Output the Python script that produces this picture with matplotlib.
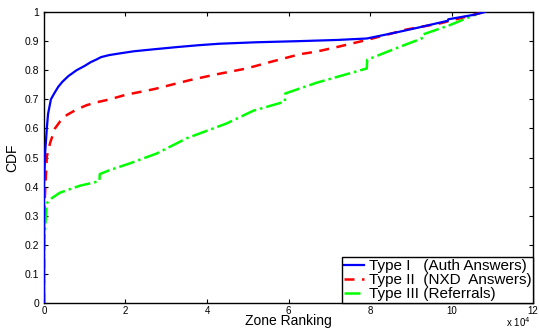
import matplotlib
matplotlib.use("Agg")
import matplotlib.pyplot as plt

plt.rcParams['font.family'] = ['Liberation Sans', 'DejaVu Sans']

# CDF curves (x = zone ranking, y = CDF)
auth_x = [0, 0, 300, 700, 1000, 1700, 2500, 3500, 4500, 6000, 8000, 10000,
          11500, 12900, 14000, 16000, 18700, 22000, 27000, 33000, 38000, 43000,
          52000, 62800, 72000, 79200, 86500, 92000, 99100, 99200, 105300, 108200]
auth_y = [0.0, 0.40, 0.52, 0.60, 0.65, 0.70, 0.72, 0.743, 0.76, 0.78, 0.80, 0.815,
          0.828, 0.837, 0.845, 0.852, 0.858, 0.865, 0.872, 0.88, 0.886, 0.891,
          0.896, 0.90, 0.904, 0.909, 0.930, 0.947, 0.970, 0.975, 0.99, 1.0]

nxd_x = [0, 0, 700, 1500, 2700, 4000, 5600, 8000, 10500, 13000, 16200, 19900,
         27000, 35800, 42000, 49700, 56000, 62800, 66900, 72000, 79200, 89000,
         97200, 108000]
nxd_y = [0.0, 0.30, 0.503, 0.55, 0.60, 0.625, 0.646, 0.665, 0.68, 0.69, 0.70, 0.715,
         0.735, 0.766, 0.785, 0.806, 0.83, 0.855, 0.864, 0.88, 0.904, 0.94,
         0.961, 1.0]

ref_x = [0, 0, 700, 1900, 3900, 8800, 12500, 13600, 13700, 16200, 21100, 27700,
         35000, 44800, 51400, 59100, 59200, 66900, 79200, 79300, 87400, 92700,
         92800, 99600, 106200, 107500]
ref_y = [0.0, 0.20, 0.343, 0.36, 0.379, 0.403, 0.415, 0.42, 0.443, 0.457, 0.48, 0.514,
         0.566, 0.617, 0.661, 0.692, 0.72, 0.757, 0.806, 0.836, 0.881, 0.909,
         0.922, 0.955, 0.993, 1.0]

xticks = [0, 20000, 40000, 60000, 80000, 100000, 120000]
xtick_labels = ['0', '2', '4', '6', '8', '10', '12']
yticks = [0, 0.1, 0.2, 0.3, 0.4, 0.5, 0.6, 0.7, 0.8, 0.9, 1.0]
ytick_labels = ['0', '0.1', '0.2', '0.3', '0.4', '0.5', '0.6', '0.7', '0.8', '0.9', '1']

fig = plt.figure(figsize=(5.39, 3.31), dpi=100)
ax = fig.add_axes([0.0816, 0.0846, 0.9074, 0.8791])

ax.plot(ref_x, ref_y, color='#00ff00', linestyle='-.', linewidth=1.8,
        label='Type III (Referrals)', zorder=2)
ax.plot(nxd_x, nxd_y, color='#ff0000', linestyle='--', linewidth=1.8,
        dashes=(4, 3), label='Type II  (NXD  Answers)', zorder=3)
ax.plot(auth_x, auth_y, color='#0000ff', linestyle='-', linewidth=1.6,
        label='Type I   (Auth Answers)', zorder=4)

ax.set_xlim(0, 120000)
ax.set_ylim(0, 1)
ax.set_xticks(xticks)
ax.set_xticklabels(xtick_labels, fontsize=7)
ax.set_yticks(yticks)
ax.set_yticklabels(ytick_labels, fontsize=7.5)
ax.tick_params(direction='in', top=True, right=True, length=3, width=0.8)
ax.tick_params(axis='x', pad=2)
for sp in ax.spines.values():
    sp.set_linewidth(1.0)

ax.set_xlabel('Zone Ranking', fontsize=10, labelpad=-1)
ax.set_ylabel('CDF', fontsize=10, labelpad=4)
ax.text(0.995, -0.088, r'x 10$^4$', transform=ax.transAxes, fontsize=7,
        ha='right', va='bottom')

handles, labels = ax.get_legend_handles_labels()
leg = ax.legend(handles[::-1], labels[::-1], loc='lower right', fontsize=11,
                borderaxespad=0, fancybox=False, framealpha=1,
                edgecolor='black', handlelength=1.3, borderpad=0.12,
                labelspacing=0.0, handletextpad=0.3)
leg.get_frame().set_linewidth(1.0)

fig.savefig('out.png', dpi=100)
